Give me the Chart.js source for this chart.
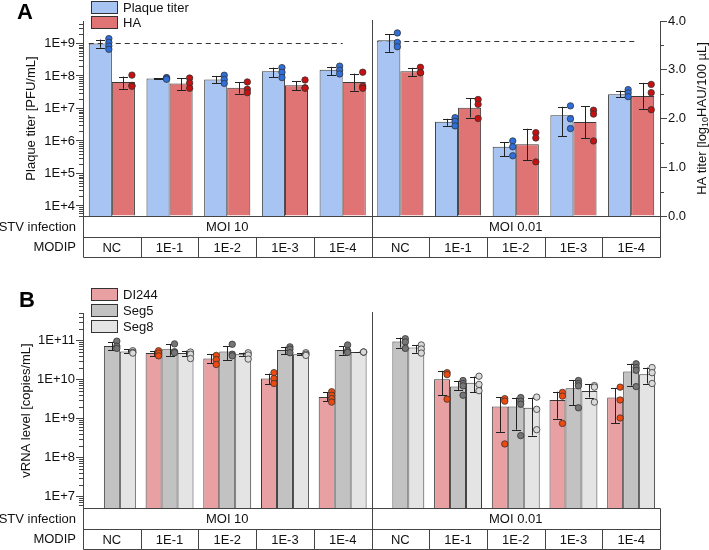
<!DOCTYPE html>
<html>
<head>
<meta charset="utf-8">
<script src="https://cdn.jsdelivr.net/npm/chart.js@4/dist/chart.umd.min.js"></script>
<style>
  body { margin: 0; background: #fff; }
  canvas { display: block; }
</style>
</head>
<body>
<canvas id="chartA" width="709" height="275"></canvas>
<canvas id="chartB" width="709" height="275"></canvas>
<script>
const modipLabels = ['NC', '1E-1', '1E-2', '1E-3', '1E-4', 'NC', '1E-1', '1E-2', '1E-3', '1E-4'];
const stvGroups = ['MOI 10', 'MOI 0.01'];

// panel A - plaque titer, PFU/mL (left log axis)
const plaqueMean = [1.0e9, 8.3e7, 7.8e7, 1.4e8, 1.55e8, 1.26e9, 3.9e6, 6.6e5, 6.2e6, 2.75e7];
const plaqueLo = [7.4e8, 8.0e7, 5.9e7, 9.3e7, 1.05e8, 5.5e8, 2.9e6, 3.4e5, 1.4e6, 2.2e7];
const plaqueHi = [1.32e9, 8.6e7, 1.0e8, 1.8e8, 1.9e8, 1.95e9, 4.8e6, 9.3e5, 1.12e7, 3.5e7];
const plaqueReps = [[1.41e9, 1.07e9, 8.3e8, 6.6e8], [8.9e7, 8.3e7, 7.9e7], [1.05e8, 7.8e7, 5.9e7],
  [1.8e8, 1.3e8, 8.9e7], [2.0e8, 1.5e8, 1.15e8], [2.1e9, 1.07e9, 7.9e8], [5.2e6, 4.0e6, 2.9e6],
  [1.0e6, 6.6e5, 3.5e5], [1.2e7, 4.8e6, 2.4e6], [3.8e7, 3.0e7, 2.3e7]];
// HA titer, log10 HAU/100 µL (right axis)
const haMean = [2.75, 2.72, 2.63, 2.68, 2.75, 2.97, 2.22, 1.47, 1.93, 2.46];
const haLo = [2.61, 2.58, 2.51, 2.58, 2.57, 2.87, 2.02, 1.15, 1.59, 2.20];
const haHi = [2.86, 2.83, 2.74, 2.77, 2.92, 3.04, 2.42, 1.79, 2.25, 2.73];
const haReps = [[2.89, 2.68, 2.66], [2.83, 2.73, 2.62], [2.75, 2.60, 2.53], [2.79, 2.63, 2.62],
  [2.95, 2.66, 2.62], [3.05, 2.94, 2.94], [2.39, 2.29, 2.00], [1.71, 1.60, 1.11],
  [2.17, 2.09, 1.54], [2.70, 2.53, 2.18]];
const plaqueRef = 1e9;
const haRef = 3.6;
const plaqueTicks = [1e4, 1e5, 1e6, 1e7, 1e8, 1e9];
const haTicks = [0, 1, 2, 3, 4];

// panel B - vRNA level, copies/mL
const di244Mean = [null, 4.7e10, 3.4e10, 1.05e10, 3.5e9, null, 1.0e10, 2.0e9, 2.95e9, 3.4e9];
const di244Lo = [null, 4.0e10, 2.6e10, 7.4e9, 2.75e9, null, 3.9e9, 4.5e8, 9.8e8, 7.4e8];
const di244Hi = [null, 5.4e10, 4.4e10, 1.4e10, 4.6e9, null, 1.66e10, 3.5e9, 4.8e9, 6.0e9];
const di244Reps = [[], [5.4e10, 4.7e10, 4.0e10], [4.1e10, 3.2e10, 2.4e10], [1.48e10, 1.05e10, 7.8e9],
  [4.8e9, 3.9e9, 3.2e9, 2.6e9], [], [1.48e10, 1.32e10, 3.1e9], [3.2e9, 2.75e9, 2.2e8],
  [4.6e9, 3.7e9, 7.4e8], [6.3e9, 2.95e9, 1.02e9]];
const seg5Mean = [7.1e10, 5.9e10, 5.2e10, 5.6e10, 5.6e10, 9.3e10, 6.5e9, 2.0e9, 5.9e9, 1.58e10];
const seg5Lo = [5.6e10, 4.0e10, 3.1e10, 4.4e10, 4.3e10, 6.5e10, 5.2e9, 5.1e8, 2.2e9, 6.9e9];
const seg5Hi = [9.1e10, 7.9e10, 7.1e10, 6.8e10, 7.1e10, 1.17e11, 9.1e9, 3.4e9, 9.5e9, 2.5e10];
const seg5Reps = [[9.5e10, 7.1e10, 6.2e10], [8.1e10, 5.1e10, 4.8e10], [7.9e10, 4.4e10, 4.0e10],
  [6.8e10, 5.9e10, 4.8e10], [7.6e10, 5.4e10, 4.9e10], [1.1e11, 9.1e10, 6.2e10],
  [9.3e9, 7.8e9, 6.8e9, 3.9e9], [3.4e9, 2.75e9, 2.3e9, 3.6e8], [9.3e9, 7.8e9, 6.8e9, 1.86e9],
  [2.5e10, 2.0e10, 1.7e10, 6.5e9]];
const seg8Mean = [5.2e10, 4.7e10, 4.4e10, 4.4e10, 5.0e10, 6.5e10, 8.1e9, 1.86e9, 5.0e9, 1.35e10];
const seg8Lo = [4.8e10, 4.0e10, 4.0e10, 4.1e10, 4.9e10, 4.8e10, 4.6e9, 3.6e8, 3.4e9, 7.8e9];
const seg8Hi = [5.9e10, 5.4e10, 4.8e10, 4.7e10, 5.1e10, 7.6e10, 1.17e10, 3.4e9, 7.4e9, 2.0e10];
const seg8Reps = [[5.4e10, 4.9e10, 4.7e10], [5.0e10, 4.4e10, 3.4e10], [4.8e10, 4.2e10, 3.3e10],
  [4.8e10, 4.4e10, 4.1e10], [5.0e10, 5.0e10, 5.0e10], [7.6e10, 6.0e10, 4.7e10],
  [1.2e10, 7.4e9, 5.1e9], [3.5e9, 1.7e9, 5.1e8], [6.9e9, 6.3e9, 2.6e9], [2.0e10, 1.48e10, 7.8e9]];
const vrnaTicks = [1e7, 1e8, 1e9, 1e10, 1e11];

const FONT = '"Liberation Sans", Arial, Helvetica, sans-serif';
Chart.defaults.font.family = FONT;
Chart.defaults.font.size = 13;
Chart.defaults.color = '#111';

const LINE = '#444';

function seg(ctx, x1, y1, x2, y2) {
  ctx.beginPath();
  ctx.moveTo(x1, y1);
  ctx.lineTo(x2, y2);
  ctx.stroke();
}
const px = v => Math.round(v) + 0.5;

function expLabel(v) {
  const e = Math.log10(v);
  return Math.abs(e - Math.round(e)) < 1e-6 ? '1E+' + Math.round(e) : '';
}

function minorLogTicks(ctx, s, xAxis) {
  const lo = Math.floor(Math.log10(s.min)), hi = Math.ceil(Math.log10(s.max));
  for (let e = lo; e <= hi; e++) {
    for (let m = 2; m <= 9; m++) {
      const v = m * Math.pow(10, e);
      if (v < s.min || v > s.max) continue;
      const y = px(s.getPixelForValue(v));
      seg(ctx, xAxis - 4, y, xAxis, y);
    }
  }
}

function rotatedTitle(ctx, parts, cx, cy) {
  ctx.save();
  ctx.translate(cx, cy);
  ctx.rotate(-Math.PI / 2);
  ctx.textBaseline = 'middle';
  ctx.textAlign = 'left';
  ctx.fillStyle = '#111';
  let total = 0;
  parts.forEach(p => {
    ctx.font = (p.sub ? '9px ' : '13px ') + FONT;
    p.w = ctx.measureText(p.t).width;
    total += p.w;
  });
  let x = -total / 2;
  parts.forEach(p => {
    ctx.font = (p.sub ? '9px ' : '13px ') + FONT;
    ctx.fillText(p.t, x, p.sub ? 4 : 0);
    x += p.w;
  });
  ctx.restore();
}

function drawTable(chart) {
  const ctx = chart.ctx, x = chart.scales.x, a = chart.chartArea;
  const L = px(x.getPixelForValue(-0.5)), R = px(x.getPixelForValue(9.5));
  const y0 = px(a.bottom), y1 = px(a.bottom + 20.5), y2 = px(a.bottom + 41);
  ctx.save();
  ctx.strokeStyle = LINE;
  ctx.lineWidth = 1;
  seg(ctx, L, y0, R, y0);
  seg(ctx, L, y1, R, y1);
  seg(ctx, L, y2, R, y2);
  seg(ctx, L, y0, L, y2);
  seg(ctx, R, y0, R, y2);
  const mid = px(x.getPixelForValue(4.5));
  seg(ctx, mid, a.top - 1, mid, y2);
  for (let i = 0; i < 9; i++) {
    if (i === 4) continue;
    const xx = px(x.getPixelForValue(i + 0.5));
    seg(ctx, xx, y1, xx, y2);
  }
  ctx.fillStyle = '#111';
  ctx.font = '13px ' + FONT;
  ctx.textBaseline = 'middle';
  ctx.textAlign = 'right';
  ctx.fillText('STV infection', 76, (y0 + y1) / 2);
  ctx.fillText('MODIP', 76, (y1 + y2) / 2);
  ctx.textAlign = 'center';
  ctx.fillText(stvGroups[0], (x.getPixelForValue(-0.5) + x.getPixelForValue(4.5)) / 2, (y0 + y1) / 2);
  ctx.fillText(stvGroups[1], (x.getPixelForValue(4.5) + x.getPixelForValue(9.5)) / 2, (y0 + y1) / 2);
  modipLabels.forEach((lab, i) => ctx.fillText(lab, x.getPixelForValue(i), (y1 + y2) / 2 + 0.5));
  ctx.restore();
}

function drawLegend(chart, top, step) {
  const ctx = chart.ctx;
  ctx.save();
  ctx.font = '13px ' + FONT;
  ctx.textBaseline = 'middle';
  ctx.textAlign = 'left';
  chart.data.datasets.forEach((ds, i) => {
    const y = top + i * step;
    ctx.fillStyle = ds.backgroundColor;
    ctx.fillRect(91, y, 27, 13);
    ctx.strokeStyle = '#333';
    ctx.lineWidth = 1;
    ctx.strokeRect(91.5, y + 0.5, 26, 12);
    ctx.fillStyle = '#111';
    ctx.fillText(ds.label, 123, y + 7);
  });
  ctx.restore();
}

const panelPlugin = {
  id: 'panel',
  beforeDatasetsDraw(chart, args, opts) {
    const ctx = chart.ctx, x = chart.scales.x;
    ctx.save();
    ctx.strokeStyle = '#333';
    ctx.lineWidth = 1;
    ctx.setLineDash([5, 4]);
    (opts.refs || []).forEach(r => {
      const y = px(chart.scales[r.axis].getPixelForValue(r.value));
      seg(ctx, x.getPixelForValue(r.from), y, x.getPixelForValue(r.to), y);
    });
    ctx.restore();
  },
  afterDatasetsDraw(chart) {
    const ctx = chart.ctx;
    ctx.save();
    chart.data.datasets.forEach((ds, di) => {
      const meta = chart.getDatasetMeta(di);
      const ys = chart.scales[meta.yAxisID];
      meta.data.forEach((bar, i) => {
        if (ds.data[i] == null) return;
        const cx = px(bar.x);
        const yl = ys.getPixelForValue(ds.errLo[i]), yh = ys.getPixelForValue(ds.errHi[i]);
        ctx.strokeStyle = '#222';
        ctx.lineWidth = 1;
        seg(ctx, cx, yl, cx, yh);
        seg(ctx, cx - 4.5, px(yl), cx + 4.5, px(yl));
        seg(ctx, cx - 4.5, px(yh), cx + 4.5, px(yh));
        const dx = bar.x + bar.width / 2 - 3;
        ds.reps[i].forEach(v => {
          ctx.beginPath();
          ctx.arc(dx, ys.getPixelForValue(v), 3.2, 0, Math.PI * 2);
          ctx.fillStyle = ds.dotColor;
          ctx.fill();
          ctx.strokeStyle = '#333';
          ctx.lineWidth = 0.8;
          ctx.stroke();
        });
      });
    });
    ctx.restore();
  },
  afterDraw(chart, args, opts) {
    const ctx = chart.ctx, a = chart.chartArea;
    ctx.save();
    ctx.strokeStyle = LINE;
    ctx.lineWidth = 1;
    minorLogTicks(ctx, chart.scales.y, a.left);
    if (chart.scales.y2) {
      const s = chart.scales.y2;
      for (let v = 0.5; v < s.max; v += 1) {
        const y = px(s.getPixelForValue(v));
        seg(ctx, a.right, y, a.right + 4, y);
      }
    }
    ctx.restore();
    drawTable(chart);
    drawLegend(chart, opts.legendTop, opts.legendStep);
    rotatedTitle(ctx, opts.leftTitle, opts.leftTitleX, (a.top + a.bottom) / 2);
    if (opts.rightTitle) rotatedTitle(ctx, opts.rightTitle, 702, (a.top + a.bottom) / 2);
    ctx.save();
    ctx.font = 'bold 22px ' + FONT;
    ctx.fillStyle = '#000';
    ctx.textBaseline = 'alphabetic';
    ctx.fillText(opts.letter, opts.letterX, opts.letterY);
    ctx.restore();
  }
};

const yAxisBase = {
  border: { display: true, color: LINE, width: 1 },
  grid: { drawOnChartArea: false, drawTicks: true, tickLength: 7, color: LINE },
  ticks: { padding: 1, color: '#111', font: { size: 13 }, autoSkip: false }
};

new Chart(document.getElementById('chartA'), {
  type: 'bar',
  data: {
    labels: modipLabels,
    datasets: [{
      label: 'Plaque titer',
      data: plaqueMean,
      errLo: plaqueLo, errHi: plaqueHi, reps: plaqueReps,
      yAxisID: 'y',
      backgroundColor: '#a7c4f2',
      borderColor: '#3a3a3a',
      borderWidth: 1,
      dotColor: '#2f6fdc'
    }, {
      label: 'HA',
      data: haMean,
      errLo: haLo, errHi: haHi, reps: haReps,
      yAxisID: 'y2',
      backgroundColor: '#e07474',
      borderColor: '#3a3a3a',
      borderWidth: 1,
      dotColor: '#c81010'
    }]
  },
  options: {
    responsive: false,
    animation: false,
    events: [],
    layout: { padding: { top: 21, bottom: 59, left: 0, right: 0 } },
    datasets: { bar: { categoryPercentage: 0.8, barPercentage: 1.0 } },
    plugins: {
      legend: { display: false },
      tooltip: { enabled: false },
      panel: {
        refs: [{ axis: 'y', value: plaqueRef, from: -0.4, to: 4.0 }, { axis: 'y2', value: haRef, from: 4.6, to: 9.1 }],
        legendTop: 1, legendStep: 15,
        leftTitle: [{ t: 'Plaque titer [PFU/mL]' }], leftTitleX: 31,
        rightTitle: [{ t: 'HA titer [log' }, { t: '10', sub: true }, { t: 'HAU/100 µL]' }],
        letter: 'A', letterX: 17, letterY: 19
      }
    },
    scales: {
      x: { display: false },
      y: {
        ...yAxisBase,
        type: 'logarithmic',
        position: 'left',
        min: Math.pow(10, 3.69),
        max: Math.pow(10, 9.69),
        afterFit: s => { s.width = 83; },
        afterBuildTicks: s => { s.ticks = plaqueTicks.map(v => ({ value: v })); },
        ticks: { ...yAxisBase.ticks, callback: v => expLabel(v) }
      },
      y2: {
        ...yAxisBase,
        type: 'linear',
        position: 'right',
        min: 0,
        max: 4,
        afterFit: s => { s.width = 49; },
        afterBuildTicks: s => { s.ticks = haTicks.map(v => ({ value: v })); },
        ticks: { ...yAxisBase.ticks, callback: v => v.toFixed(1) }
      }
    }
  },
  plugins: [panelPlugin]
});

new Chart(document.getElementById('chartB'), {
  type: 'bar',
  data: {
    labels: modipLabels,
    datasets: [{
      label: 'DI244',
      data: di244Mean,
      errLo: di244Lo, errHi: di244Hi, reps: di244Reps,
      backgroundColor: '#e8a0a2',
      borderColor: '#3a3a3a',
      borderWidth: 1,
      dotColor: '#ee4a10'
    }, {
      label: 'Seg5',
      data: seg5Mean,
      errLo: seg5Lo, errHi: seg5Hi, reps: seg5Reps,
      backgroundColor: '#c2c2c2',
      borderColor: '#3a3a3a',
      borderWidth: 1,
      dotColor: '#767676'
    }, {
      label: 'Seg8',
      data: seg8Mean,
      errLo: seg8Lo, errHi: seg8Hi, reps: seg8Reps,
      backgroundColor: '#e4e4e4',
      borderColor: '#3a3a3a',
      borderWidth: 1,
      dotColor: '#dadada'
    }]
  },
  options: {
    responsive: false,
    animation: false,
    events: [],
    layout: { padding: { top: 38, bottom: 42, left: 0, right: 49 } },
    datasets: { bar: { categoryPercentage: 0.83, barPercentage: 1.0 } },
    plugins: {
      legend: { display: false },
      tooltip: { enabled: false },
      panel: {
        refs: [],
        legendTop: 13, legendStep: 16,
        leftTitle: [{ t: 'vRNA level [copies/mL]' }], leftTitleX: 26,
        letter: 'B', letterX: 19, letterY: 32
      }
    },
    scales: {
      x: { display: false },
      y: {
        ...yAxisBase,
        type: 'logarithmic',
        position: 'left',
        min: Math.pow(10, 6.7),
        max: Math.pow(10, 11.7),
        afterFit: s => { s.width = 83; },
        afterBuildTicks: s => { s.ticks = vrnaTicks.map(v => ({ value: v })); },
        ticks: { ...yAxisBase.ticks, callback: v => expLabel(v) }
      }
    }
  },
  plugins: [panelPlugin]
});
</script>
</body>
</html>
